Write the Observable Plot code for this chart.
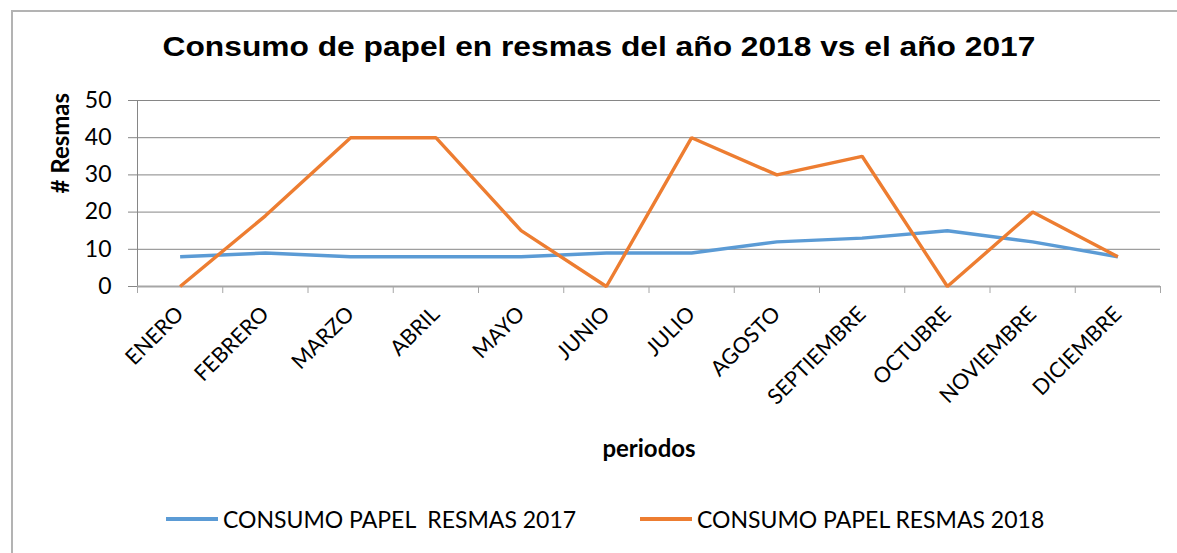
<!DOCTYPE html>
<html>
<head>
<meta charset="utf-8">
<script src="https://cdn.jsdelivr.net/npm/d3@7"></script>
<script src="https://cdn.jsdelivr.net/npm/@observablehq/plot@0.6"></script>
<style>
  html, body { margin: 0; padding: 0; background: #fff; }
  #page { position: relative; width: 1177px; height: 553px; overflow: hidden; background: #fff; }
  #frame { position: absolute; left: 11px; top: 10px; width: 1300px; height: 700px;
           border-left: 2px solid #b3b3b3; border-top: 2px solid #b3b3b3; }
  #title { position: absolute; left: 0; top: 32px; width: 1198px; text-align: center;
           font-family: "Liberation Sans", Arial, sans-serif; font-weight: bold; font-size: 27px; color: #000;
           transform: scaleX(1.175); transform-origin: 599px 0; white-space: nowrap; }
  #chart { position: absolute; left: 0; top: 75px; }
  #legend { position: absolute; left: 0; top: 505px; width: 1177px; height: 30px;
            font-family: Lato, sans-serif; font-size: 23px; color: #000; }
  .item { position: absolute; top: 0; display: flex; align-items: center; white-space: pre; }
  .swatch { width: 52px; height: 4px; margin-right: 5px; }
</style>
</head>
<body>
<div id="page">
  <div id="frame"></div>
  <div id="title">Consumo de papel en resmas del año 2018 vs el año 2017</div>
  <div id="chart"></div>
  <div id="legend"></div>
</div>
<script>
const months = ["ENERO","FEBRERO","MARZO","ABRIL","MAYO","JUNIO","JULIO","AGOSTO","SEPTIEMBRE","OCTUBRE","NOVIEMBRE","DICIEMBRE"];
const consumo2017 = [8, 9, 8, 8, 8, 9, 9, 12, 13, 15, 12, 8];
const consumo2018 = [0, 19, 40, 40, 15, 0, 40, 30, 35, 0, 20, 8];
const yTicks = [0, 10, 20, 30, 40, 50];
const seriesNames = ["CONSUMO PAPEL  RESMAS 2017", "CONSUMO PAPEL RESMAS 2018"];
const seriesColors = ["#5B9BD5", "#ED7D31"];
const xTitle = "periodos";
const yTitle = "# Resmas";

const rows = [];
months.forEach((m, i) => {
  rows.push({i, month: m, value: consumo2017[i], serie: seriesNames[0]});
});
months.forEach((m, i) => {
  rows.push({i, month: m, value: consumo2018[i], serie: seriesNames[1]});
});

const idx = d3.range(months.length);
const bounds = d3.range(months.length + 1).map(i => i - 0.5);

const chart = Plot.plot({
  width: 1177,
  height: 405,
  marginLeft: 137,
  marginRight: 17,
  marginTop: 25,
  marginBottom: 194,
  style: {fontFamily: "Lato, sans-serif", background: "transparent", color: "#000"},
  x: {type: "linear", domain: [-0.5, months.length - 0.5]},
  y: {domain: [0, 50]},
  color: {domain: seriesNames, range: seriesColors},
  marks: [
    Plot.gridY(yTicks, {stroke: "#868686", strokeOpacity: 1, strokeWidth: 1}),
    Plot.axisY(yTicks, {tickSize: 9, tickPadding: 17, stroke: "#868686", fontSize: 23, label: null, fill: "#000"}),
    Plot.ruleX([-0.5], {stroke: "#868686", strokeWidth: 1}),
    Plot.ruleY([0], {stroke: "#a6a6a6", strokeWidth: 2}),
    Plot.axisX(bounds, {tickSize: 7, stroke: "#a6a6a6", tickFormat: () => "", label: null}),
    Plot.axisX(idx, {tickSize: 0, tickPadding: 24, tickRotate: -45, tickFormat: i => months[i], fontSize: 21.5, label: null, fill: "#000"}),
    Plot.line(rows, {x: "i", y: "value", z: "serie", stroke: "serie", strokeWidth: 3.4, strokeLinejoin: "miter", strokeLinecap: "butt"}),
    Plot.text([xTitle], {frameAnchor: "bottom", dy: 170, fontSize: 24, fontWeight: "bold", fill: "#000"}),
    Plot.text([yTitle], {frameAnchor: "left", dx: -76, rotate: -90, fontSize: 24, fontWeight: "bold", fill: "#000"})
  ]
});
document.getElementById("chart").appendChild(chart);

const legend = document.getElementById("legend");
const lefts = [166, 640];
seriesNames.forEach((name, k) => {
  const item = document.createElement("div");
  item.className = "item";
  item.style.left = lefts[k] + "px";
  const sw = document.createElement("div");
  sw.className = "swatch";
  sw.style.background = seriesColors[k];
  const label = document.createElement("span");
  label.textContent = name;
  item.appendChild(sw);
  item.appendChild(label);
  legend.appendChild(item);
});
</script>
</body>
</html>
